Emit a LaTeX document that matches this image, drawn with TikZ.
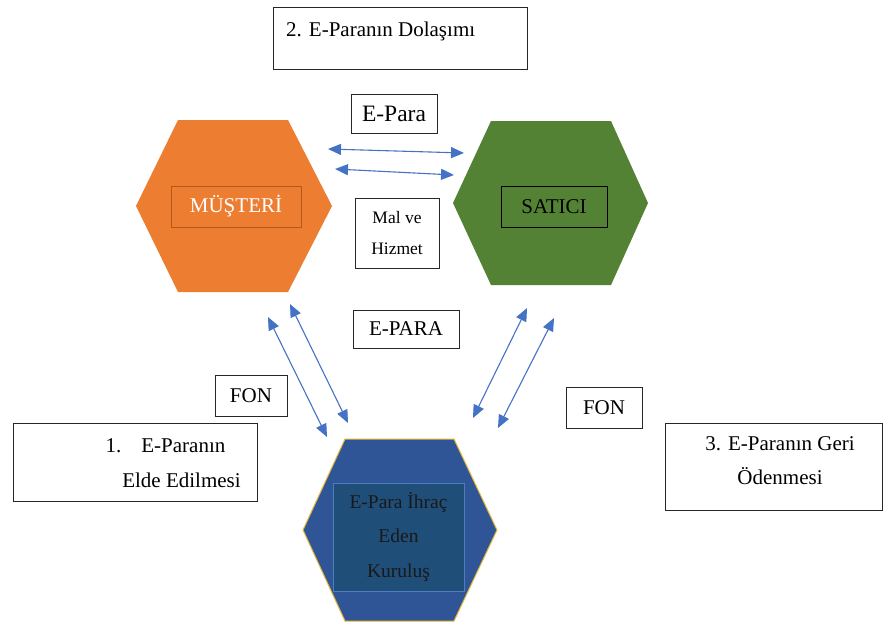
\documentclass[tikz,border=0pt]{standalone}
\usepackage{fontspec}
\setmainfont{Liberation Serif}
\usetikzlibrary{arrows.meta}
\definecolor{hexorange}{HTML}{ED7D31}
\definecolor{hexorangeline}{HTML}{B5581C}
\definecolor{hexgreen}{HTML}{548235}
\definecolor{hexblue}{HTML}{2F5597}
\definecolor{hexgold}{HTML}{E8B83A}
\definecolor{innerblue}{HTML}{1F4E79}
\definecolor{innerblueline}{HTML}{4A7EC0}
\definecolor{arrowblue}{HTML}{4472C4}
\begin{document}
\begin{tikzpicture}[x=1pt,y=-1pt,
  txtbox/.style={draw=black!85, line width=0.8pt, inner sep=0pt, fill=white},
  big/.style={font=\fontsize{21}{34}\selectfont},
  flow/.style={draw=arrowblue, line width=1.1pt,
    {Triangle[length=13pt,width=11pt]}-{Triangle[length=13pt,width=11pt]}}
]
\useasboundingbox (0,0) rectangle (883,625);

% hexagons
\fill[hexorange] (178,120) -- (288,120) -- (332,206) -- (288,292) -- (178,292) -- (136,206) -- cycle;
\fill[hexgreen] (491,121) -- (611,121) -- (648,203) -- (611,285) -- (491,285) -- (453,203) -- cycle;
\filldraw[fill=hexblue, draw=hexgold, line width=1pt] (345,439) -- (454,439) -- (497,530) -- (454,621) -- (345,621) -- (303,530) -- cycle;

% inner labels
\node[draw=hexorangeline, line width=0.8pt, minimum width=130pt, minimum height=41pt, inner sep=0pt,
      text=white, big] (musteri) at (236,206.5) {MÜŞTERİ};
\node[draw=black, line width=0.8pt, minimum width=106pt, minimum height=41pt, inner sep=0pt,
      text=black, big] (satici) at (554,206.5) {SATICI};
\node[draw=innerblueline, fill=innerblue, line width=0.8pt, minimum width=131pt, minimum height=108pt,
      inner sep=0pt, text=black!90, align=center, font=\fontsize{19.5}{34.5}\selectfont] (kurulus) at (398.5,537)
      {E-Para İhraç\\Eden\\Kuruluş};

% text boxes
\node[txtbox, minimum width=254pt, minimum height=62pt] (b2) at (400,38) {};
\node[big, anchor=west, inner sep=0pt] (t2) at (286,31) {2. E-Paranın Dolaşımı};

\node[txtbox, minimum width=86pt, minimum height=39pt, font=\fontsize{23.5}{28}\selectfont] (epara) at (394,113.5) {E-Para};
\node[txtbox, minimum width=84pt, minimum height=70pt, align=center, font=\fontsize{17.5}{31}\selectfont] (mal) at (397,233) {Mal ve\\Hizmet};
\node[txtbox, minimum width=106pt, minimum height=38pt, big] (eparab) at (406,329) {E-PARA};
\node[txtbox, minimum width=72pt, minimum height=41pt, big] (fonl) at (251,395.5) {FON};
\node[txtbox, minimum width=76pt, minimum height=41pt, big] (fonr) at (604,407.5) {FON};

\node[txtbox, minimum width=244pt, minimum height=78pt] (b1) at (135,462) {};
\node[big, inner sep=0pt] (t1a) at (165.5,446) {1.\hspace{20pt}E-Paranın};
\node[big, inner sep=0pt] (t1b) at (181.5,480) {Elde Edilmesi};

\node[txtbox, minimum width=217pt, minimum height=87pt] (b3) at (773.5,466.5) {};
\node[big, inner sep=0pt, align=center] (t3) at (780,461) {3. E-Paranın Geri\\Ödenmesi};

% arrow ends
\coordinate (a1s) at (328,149); \coordinate (a1e) at (464,153);
\coordinate (a2s) at (335,169); \coordinate (a2e) at (454,175);
\coordinate (a3s) at (268,317); \coordinate (a3e) at (327,437);
\coordinate (a4s) at (290,304); \coordinate (a4e) at (348,423);
\coordinate (a5s) at (527,308); \coordinate (a5e) at (473,418);
\coordinate (a6s) at (554,318); \coordinate (a6e) at (498,428);

\draw[flow] (a1s) -- (a1e);
\draw[flow] (a2s) -- (a2e);
\draw[flow] (a3s) -- (a3e);
\draw[flow] (a4s) -- (a4e);
\draw[flow] (a5s) -- (a5e);
\draw[flow] (a6s) -- (a6e);
\end{tikzpicture}
\end{document}
